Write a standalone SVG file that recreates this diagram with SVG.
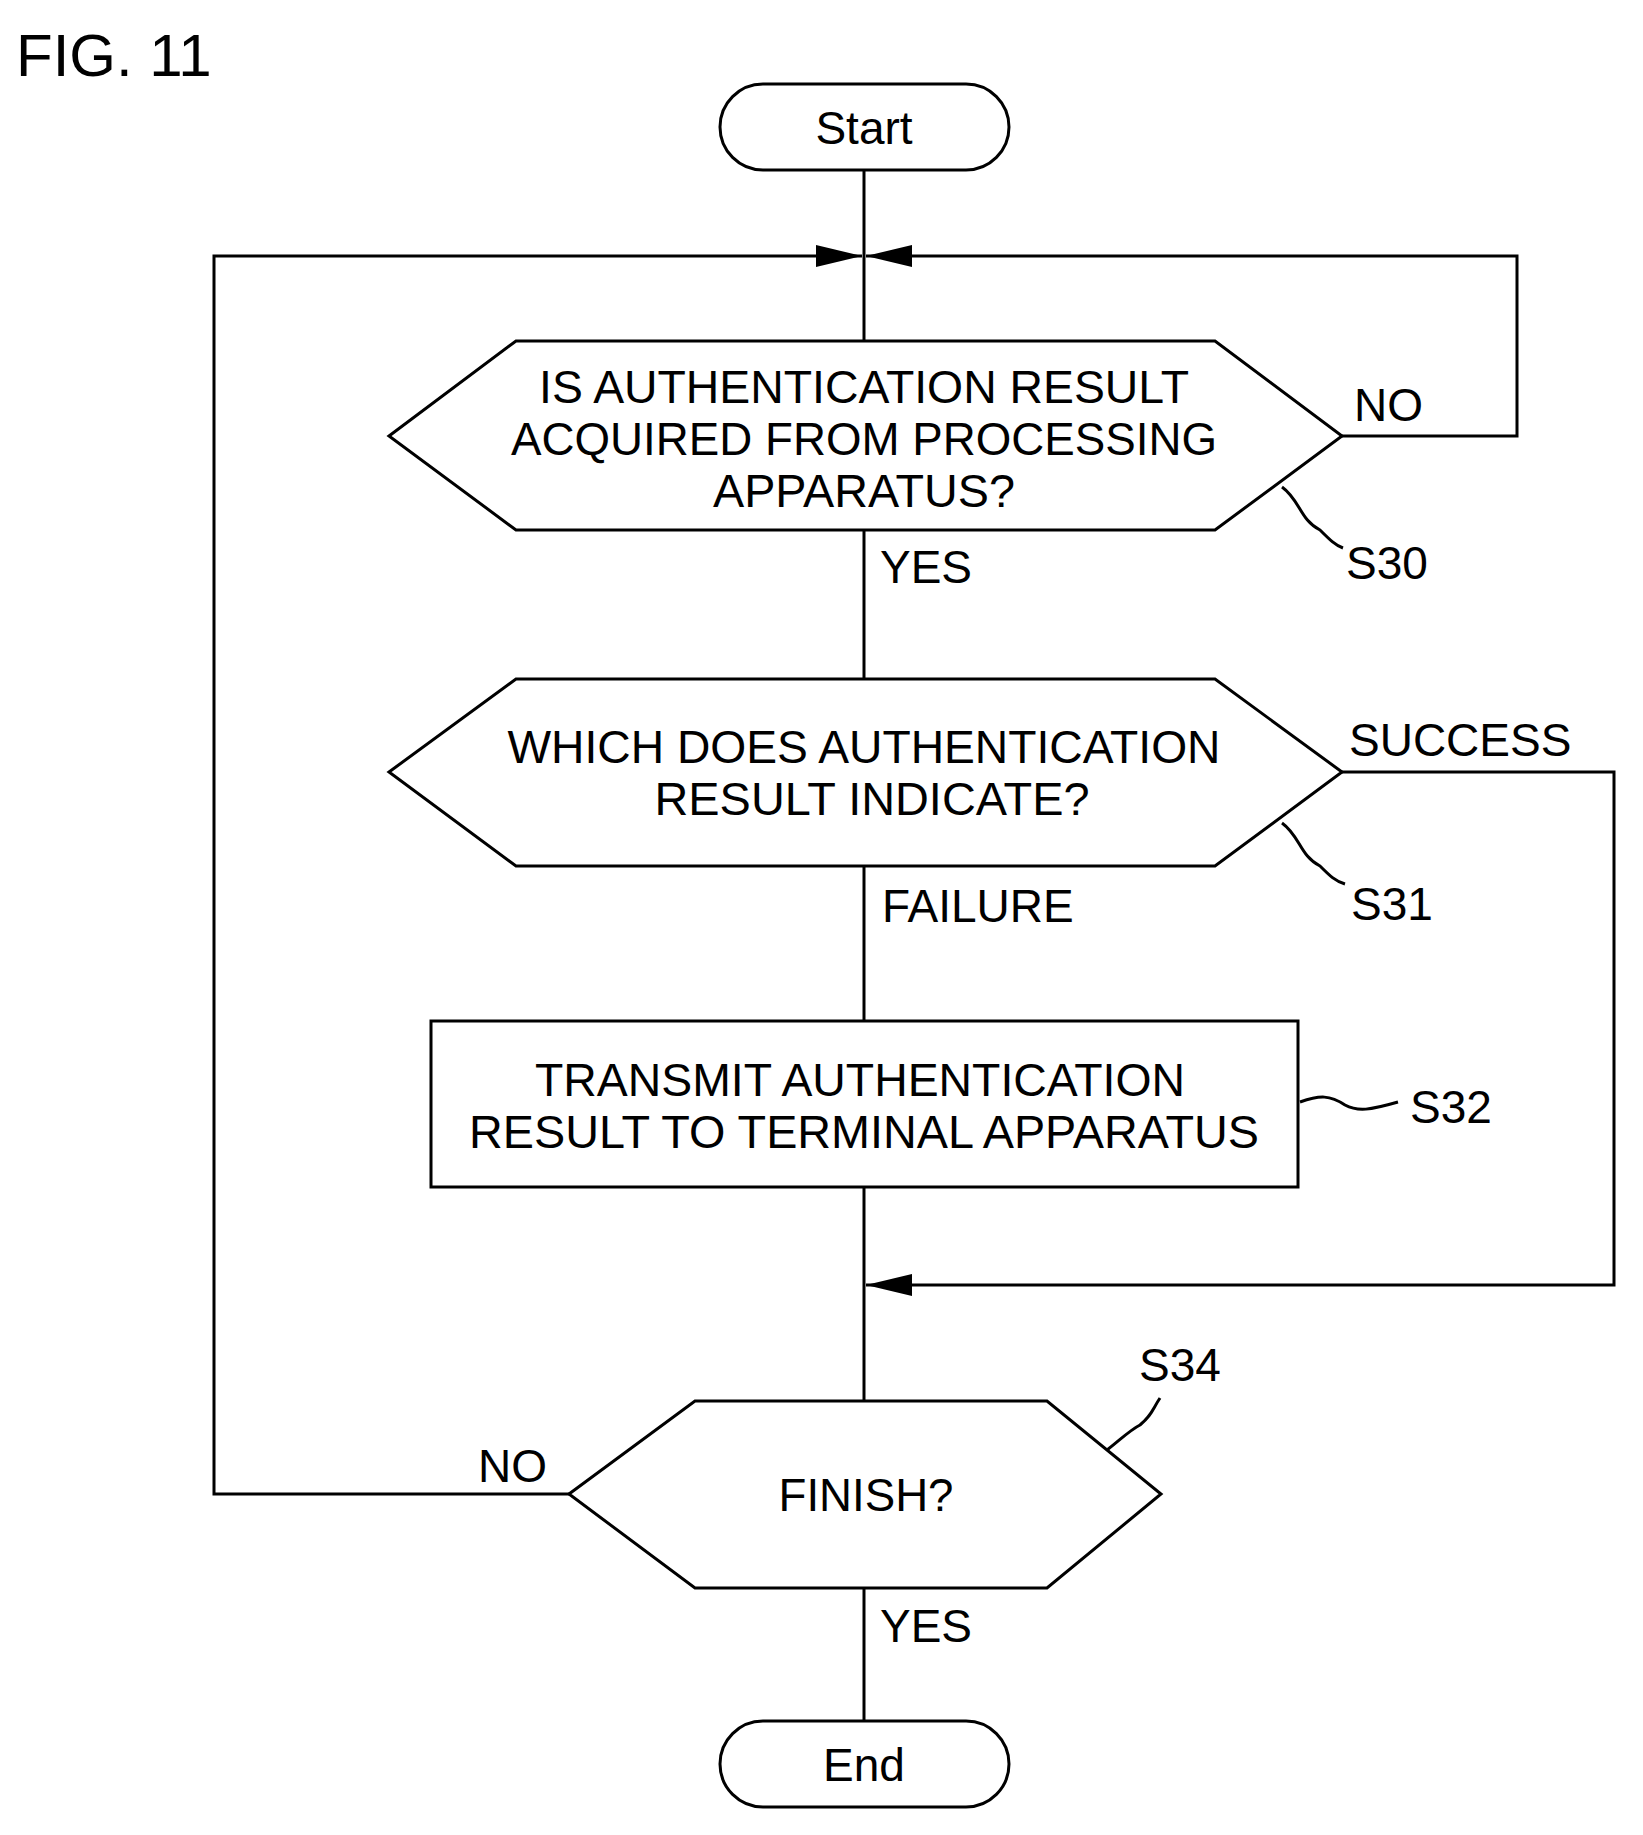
<svg xmlns="http://www.w3.org/2000/svg" width="1643" height="1835" viewBox="0 0 1643 1835">
<style>
.s{fill:none;stroke:#000;stroke-width:3}
.t{font-family:"Liberation Sans",Arial,sans-serif;font-size:46px;fill:#000}
.m{text-anchor:middle}
</style>
<defs>
<marker id="a" markerWidth="46" markerHeight="22" refX="46" refY="11" orient="auto" markerUnits="userSpaceOnUse"><path d="M0,0 L46,11 L0,22 Z" fill="#000"/></marker>
</defs>
<rect width="1643" height="1835" fill="#fff"/>
<text class="t" x="16" y="76" style="font-size:60px">FIG. 11</text>
<g id="connectors" class="s">
<line x1="864" y1="170" x2="864" y2="341"/>
<line x1="864" y1="530" x2="864" y2="679"/>
<line x1="864" y1="866" x2="864" y2="1021"/>
<line x1="864" y1="1187" x2="864" y2="1401"/>
<line x1="864" y1="1588" x2="864" y2="1721"/>
<polyline points="1342,436 1517,436 1517,256 866,256" marker-end="url(#a)"/>
<polyline points="569,1494 214,1494 214,256 862,256" marker-end="url(#a)"/>
<polyline points="1342,772 1614,772 1614,1285 866,1285" marker-end="url(#a)"/>
<path d="M1282,487 C1300,500 1300,520 1320,530 C1330,540 1335,545 1343,548"/>
<path d="M1282,823 C1300,836 1300,856 1320,866 C1330,876 1335,881 1345,884"/>
<path d="M1300,1102 C1320,1095 1330,1095 1345,1105 C1358,1112 1370,1110 1398,1102"/>
<path d="M1107,1450 C1120,1440 1130,1430 1140,1425 C1152,1415 1152,1410 1160,1398"/>
</g>
<text class="t" x="1354" y="421">NO</text>
<text class="t" x="880" y="583">YES</text>
<text class="t" x="1349" y="756">SUCCESS</text>
<text class="t" x="882" y="922">FAILURE</text>
<text class="t" x="478" y="1482">NO</text>
<text class="t" x="880" y="1642">YES</text>
<text class="t" x="1346" y="579">S30</text>
<text class="t" x="1351" y="920">S31</text>
<text class="t" x="1410" y="1123">S32</text>
<text class="t" x="1139" y="1381">S34</text>
<g id="start"><rect class="s" x="720" y="84" width="289" height="86" rx="43"/><text class="t m" x="864" y="144">Start</text></g>
<g id="s30"><polygon class="s" points="389,436 516,341 1215,341 1342,436 1215,530 516,530"/>
<text class="t m" x="864" y="403" textLength="650" lengthAdjust="spacingAndGlyphs">IS AUTHENTICATION RESULT</text>
<text class="t m" x="864" y="455" textLength="706" lengthAdjust="spacingAndGlyphs">ACQUIRED FROM PROCESSING</text>
<text class="t m" x="864" y="507" textLength="302" lengthAdjust="spacingAndGlyphs">APPARATUS?</text></g>
<g id="s31"><polygon class="s" points="389,772 516,679 1215,679 1342,772 1215,866 516,866"/>
<text class="t m" x="864" y="763" textLength="713" lengthAdjust="spacingAndGlyphs">WHICH DOES AUTHENTICATION</text>
<text class="t m" x="872" y="815" textLength="435" lengthAdjust="spacingAndGlyphs">RESULT INDICATE?</text></g>
<g id="s32"><rect class="s" x="431" y="1021" width="867" height="166"/>
<text class="t m" x="860" y="1096" textLength="650" lengthAdjust="spacingAndGlyphs">TRANSMIT AUTHENTICATION</text>
<text class="t m" x="864" y="1148" textLength="790" lengthAdjust="spacingAndGlyphs">RESULT TO TERMINAL APPARATUS</text></g>
<g id="s34"><polygon class="s" points="569,1494 695,1401 1047,1401 1161,1494 1047,1588 695,1588"/>
<text class="t m" x="866" y="1511" textLength="175" lengthAdjust="spacingAndGlyphs">FINISH?</text></g>
<g id="end"><rect class="s" x="720" y="1721" width="289" height="86" rx="43"/><text class="t m" x="864" y="1781">End</text></g>
</svg>
